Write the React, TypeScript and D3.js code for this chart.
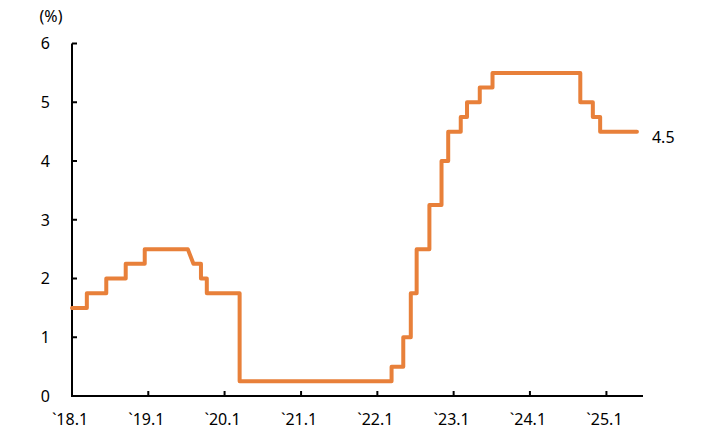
import React from "react";
import * as d3 from "d3";

const changeDates: string[] = [
  "2018-01-01", "2018-03-13", "2018-06-14", "2018-09-15", "2018-12-15",
  "2019-07-09", "2019-08-05", "2019-09-10", "2019-10-08",
  "2020-03-13",
  "2022-03-10", "2022-05-05", "2022-06-10", "2022-07-08", "2022-09-07", "2022-11-04", "2022-12-06",
  "2023-02-04", "2023-03-06", "2023-05-06", "2023-07-06",
  "2024-08-29", "2024-10-28", "2024-12-02",
  "2025-05-27",
];
const rateValues: number[] = [
  1.5, 1.75, 2.0, 2.25, 2.5,
  2.5, 2.25, 2.0, 1.75,
  0.25,
  0.5, 1.0, 1.75, 2.5, 3.25, 4.0, 4.5,
  4.75, 5.0, 5.25, 5.5,
  5.0, 4.75, 4.5,
  4.5,
];
// the July 2019 cut is drawn as a slope in the reference
const slopedIndex: number[] = [6];

const xTickLabels: string[] = ["`18.1", "`19.1", "`20.1", "`21.1", "`22.1", "`23.1", "`24.1", "`25.1"];
const xTickDates: string[] = ["2018-01-01", "2019-01-01", "2020-01-01", "2021-01-01", "2022-01-01", "2023-01-01", "2024-01-01", "2025-01-01"];
const yTicks: number[] = [0, 1, 2, 3, 4, 5, 6];
const unitLabel = "(%)";
const endLabel = "4.5";

const W = 711;
const H = 440;
const FONT = "'Noto Sans', 'DejaVu Sans', sans-serif";

export default function App() {
  const parse = d3.timeParse("%Y-%m-%d");
  const x = d3
    .scaleTime()
    .domain([parse("2018-01-01")!, parse("2025-06-25")!])
    .range([72, 643]);
  const y = d3.scaleLinear().domain([0, 6]).range([396, 43.5]);

  const pts: [number, number][] = [];
  changeDates.forEach((ds, i) => {
    const px = x(parse(ds)!);
    const py = y(rateValues[i]);
    if (i > 0 && !slopedIndex.includes(i)) {
      pts.push([px, y(rateValues[i - 1])]);
    }
    pts.push([px, py]);
  });
  const line = d3.line<[number, number]>().x((d) => d[0]).y((d) => d[1]);
  const path = line(pts) || "";

  const last = pts[pts.length - 1];

  return (
    <svg
      width={W}
      height={H}
      style={{ position: "absolute", left: 0, top: 0, background: "#fff" }}
      fontFamily={FONT}
    >
      <rect width={W} height={H} fill="#fff" />
      <line x1={72} x2={72} y1={y(6)} y2={y(0)} stroke="#000" strokeWidth={2} />
      {yTicks.map((t) => (
        <g key={t}>
          <line x1={72} x2={77} y1={y(t)} y2={y(t)} stroke="#000" strokeWidth={2} />
          <text x={50} y={y(t)} dy="0.36em" textAnchor="end" fontSize={16} fill="#000">
            {t}
          </text>
        </g>
      ))}
      <text x={51} y={16} dy="0.36em" textAnchor="middle" fontSize={16} fill="#000">
        {unitLabel}
      </text>
      <line x1={71} x2={643} y1={y(0)} y2={y(0)} stroke="#000" strokeWidth={2} />
      {xTickDates.map((ds, i) => {
        const px = x(parse(ds)!);
        return (
          <g key={ds}>
            {i > 0 && <line x1={px} x2={px} y1={y(0)} y2={y(0) - 5} stroke="#000" strokeWidth={2} />}
            <text x={px - 2} y={419} dy="0.36em" textAnchor="middle" fontSize={16} fill="#000">
              {xTickLabels[i]}
            </text>
          </g>
        );
      })}
      <path d={path} fill="none" stroke="#E8803A" strokeWidth={4} strokeLinejoin="round" strokeLinecap="round" />
      <text x={last[0] + 15} y={last[1] + 6} dy="0.36em" textAnchor="start" fontSize={16} fill="#000">
        {endLabel}
      </text>
    </svg>
  );
}
